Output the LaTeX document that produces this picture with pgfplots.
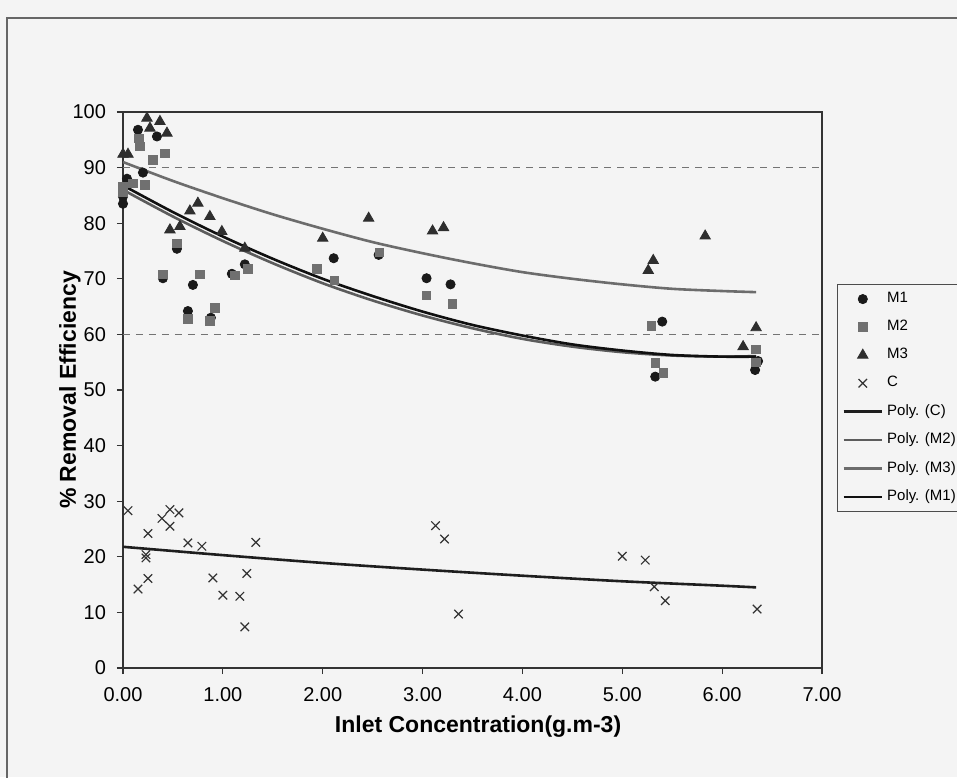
\documentclass[border=0pt]{standalone}
\usepackage{fontspec}
\setmainfont{Liberation Sans}
\usepackage{pgfplots}
\pgfplotsset{compat=1.18}

\definecolor{bgc}{HTML}{F4F4F4}
\definecolor{mone}{HTML}{1A1A1A}
\definecolor{mtwo}{HTML}{707070}
\definecolor{mthree}{HTML}{2E2E2E}
\definecolor{ccol}{HTML}{333333}
\definecolor{lc}{HTML}{1E1E1E}
\definecolor{lmtwo}{HTML}{5C5C5C}
\definecolor{lmthree}{HTML}{6C6C6C}
\definecolor{lmone}{HTML}{101010}

\pgfplotsset{
  linelegend/.style={legend image code/.code={\draw[##1] (0cm,0cm) -- (0.67cm,0cm);}},
  marklegend/.style={legend image code/.code={\draw[mark repeat=2,mark phase=2,##1] plot coordinates {(0cm,0cm) (0.335cm,0cm) (0.67cm,0cm)};}},
}

\begin{document}
\begin{tikzpicture}
\fill[bgc] (-61.5pt,-54.5pt) rectangle (417pt,334pt);
\draw[black!60, line width=0.8pt] (-58pt,-60pt) -- (-58pt,325pt) -- (420pt,325pt);
\begin{axis}[
    at={(0,0)}, anchor=south west,
    scale only axis,
    width=349.5pt, height=278pt,
    xmin=0, xmax=7, ymin=0, ymax=100,
    xtick={0,1,...,7}, ytick={0,10,...,100},
    tick align=outside, tick pos=left,
    major tick length=3pt,
    axis line style={black!80, line width=0.7pt},
    every tick/.style={black!80, line width=0.6pt},
    /pgf/number format/assume math mode=true,
    xticklabel={\pgfmathprintnumber[fixed,fixed zerofill,precision=2]{\tick}},
    ticklabel style={font=\fontsize{10}{12}\selectfont},
    xticklabel style={yshift=-3pt},
    yticklabel style={xshift=-2pt},
    xlabel={\textbf{Inlet Concentration(g.m-3)}},
    ylabel={\textbf{\% Removal Efficiency}},
    label style={font=\fontsize{11.5}{13}\selectfont},
    xlabel style={at={(axis description cs:0.508,-0.106)}, anchor=center},
    ylabel style={at={(axis description cs:-0.076,0.5)}, anchor=center},
    legend style={at={(axis description cs:1.0215,0.6906)}, anchor=north west,
      draw=black!70, fill=none, font=\fontsize{7.5}{9}\selectfont,
      inner xsep=2.5pt, inner ysep=2pt, row sep=3.3pt},
    legend cell align=left,
]
% dashed reference lines
\addplot[forget plot, black!55, line width=0.6pt, dash pattern=on 3.5pt off 3pt] coordinates {(0,90) (7,90)};
\addplot[forget plot, black!55, line width=0.6pt, dash pattern=on 3.5pt off 3pt] coordinates {(0,60) (7,60)};

% M1
\addplot[marklegend, only marks, mark=*, mark size=2.3pt, color=mone] coordinates {
(0.00,83.5) (0.00,84.8) (0.04,88.0) (0.15,96.8) (0.20,89.1) (0.34,95.6)
(0.40,70.1) (0.54,75.4) (0.65,64.2) (0.70,68.9) (0.88,63.0) (1.09,70.9)
(1.22,72.6) (2.11,73.7) (2.56,74.3) (3.04,70.1) (3.28,69.0) (5.33,52.4)
(5.40,62.3) (6.33,53.6) (6.36,55.2)
};
% M2
\addplot[marklegend, only marks, mark=square*, mark size=2.1pt, color=mtwo] coordinates {
(0.00,85.5) (0.00,86.5) (0.10,87.2) (0.16,95.3) (0.17,93.8) (0.22,86.9)
(0.30,91.4) (0.42,92.6) (0.40,70.8) (0.54,76.4) (0.65,62.8) (0.77,70.8)
(0.87,62.4) (0.92,64.8) (1.12,70.6) (1.25,71.8) (1.94,71.8) (2.12,69.7)
(2.57,74.8) (3.04,67.0) (3.30,65.5) (5.29,61.5) (5.33,54.9) (5.41,53.1)
(6.34,57.3) (6.34,55.0)
};
% M3
\addplot[marklegend, only marks, mark=triangle*, mark size=3pt, color=mthree] coordinates {
(0.00,92.4) (0.05,92.4) (0.24,98.9) (0.27,97.1) (0.37,98.3) (0.44,96.2)
(0.47,78.8) (0.57,79.4) (0.67,82.2) (0.75,83.6) (0.87,81.2) (0.99,78.5)
(1.22,75.5) (2.00,77.3) (2.46,80.9) (3.10,78.6) (3.21,79.2) (5.26,71.5)
(5.31,73.3) (5.83,77.7) (6.21,57.8) (6.34,61.2)
};
% C
\addplot[marklegend, only marks, mark=x, mark size=3pt, color=ccol, mark options={line width=0.6pt}] coordinates {
(0.05,28.3) (0.25,24.2) (0.39,26.9) (0.47,28.5) (0.56,27.9) (0.47,25.5)
(0.65,22.5) (0.79,21.9) (1.33,22.6) (0.23,20.4) (0.23,19.8) (0.25,16.1)
(0.15,14.2) (0.90,16.2) (1.00,13.1) (1.17,12.9) (1.24,17.0) (1.22,7.4)
(3.13,25.6) (3.22,23.2) (3.36,9.7) (5.00,20.1) (5.23,19.4) (5.32,14.6)
(5.43,12.1) (6.35,10.6)
};
% Poly. (C)
\addplot[linelegend, smooth, color=lc, line width=1.3pt] coordinates {
(0,21.8) (1,20.3) (2,18.9) (3,17.7) (4,16.6) (5,15.6) (6,14.8) (6.34,14.5)
};
% Poly. (M2)
\addplot[linelegend, smooth, color=lmtwo, line width=1.3pt] coordinates {
(0,86.0) (0.5,81.2) (1,76.8) (1.5,72.8) (2,69.2) (2.5,66.1) (3,63.4)
(3.5,61.1) (4,59.2) (4.5,57.8) (5,56.8) (5.5,56.2) (6,56.0) (6.34,56.1)
};
% Poly. (M3)
\addplot[linelegend, smooth, color=lmthree, line width=1.3pt] coordinates {
(0,91.0) (0.5,87.6) (1,84.5) (1.5,81.6) (2,79.0) (2.5,76.6) (3,74.6)
(3.5,72.8) (4,71.2) (4.5,70.0) (5,69.0) (5.5,68.2) (6,67.8) (6.34,67.6)
};
% Poly. (M1)
\addplot[linelegend, smooth, color=lmone, line width=1.3pt] coordinates {
(0,86.8) (0.5,82.0) (1,77.6) (1.5,73.6) (2,70.0) (2.5,66.9) (3,64.1)
(3.5,61.7) (4,59.8) (4.5,58.2) (5,57.1) (5.5,56.3) (6,56.0) (6.34,56.0)
};
\legend{M1, M2, M3, C, Poly. (C), Poly. (M2), Poly. (M3), Poly. (M1)}
\end{axis}
\pgfresetboundingbox
\useasboundingbox (-61.5pt,-54.5pt) rectangle (417pt,334pt);
\end{tikzpicture}
\end{document}
